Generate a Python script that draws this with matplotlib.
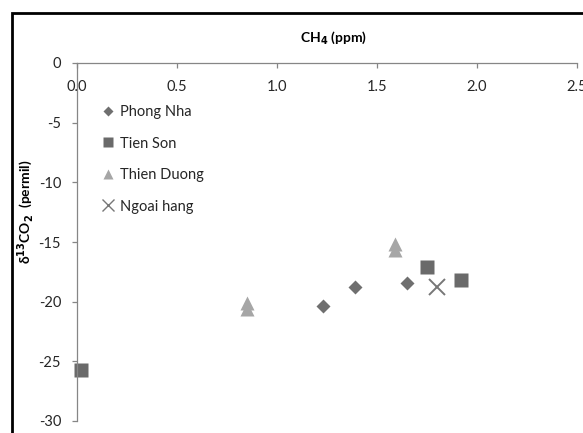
import matplotlib
matplotlib.use('Agg')
import matplotlib.pyplot as plt
from matplotlib.patches import Rectangle

# data
phong_x = [1.23, 1.39, 1.65]
phong_y = [-20.4, -18.8, -18.4]
tien_x = [0.02, 1.75, 1.92]
tien_y = [-25.7, -17.1, -18.2]
thien_x = [0.85, 0.85, 1.59, 1.59]
thien_y = [-20.1, -20.6, -15.2, -15.7]
ngoai_x = [1.80]
ngoai_y = [-18.8]

xticks = [0.0, 0.5, 1.0, 1.5, 2.0, 2.5]
yticks = [0, -5, -10, -15, -20, -25, -30]

plt.rcParams['font.family'] = ['Lato', 'DejaVu Sans']

W, H = 583, 433
fig = plt.figure(figsize=(W / 100, H / 100), dpi=100)
ax = fig.add_axes([77 / W, 1 - 421 / H, 500 / W, 358 / H])

ax.plot(phong_x, phong_y, 'D', ms=7, color='#6f6f6f', mec='none', clip_on=False, label='Phong Nha')
ax.plot(tien_x, tien_y, 's', ms=9.5, color='#6a6a6a', mec='none', clip_on=False, label='Tien Son')
ax.plot(thien_x, thien_y, '^', ms=9.5, color='#a6a6a6', mec='none', clip_on=False, label='Thien Duong')
ax.plot(ngoai_x, ngoai_y, 'x', ms=12, mew=1.4, color='#777777', clip_on=False, label='Ngoai hang')

ax.set_xlim(0, 2.5)
ax.set_ylim(-30, 0)
ax.set_xticks(xticks)
ax.set_xticklabels(['%.1f' % v for v in xticks])
ax.set_yticks(yticks)
ax.set_yticklabels(['%d' % v for v in yticks])

for s in ['top', 'right']:
    ax.spines[s].set_visible(False)
ax.spines['bottom'].set_position(('data', 0))
for s in ['left', 'bottom']:
    ax.spines[s].set_color('#868686')
    ax.spines[s].set_linewidth(0.9)
ax.tick_params(axis='x', direction='out', length=3.5, width=0.9, color='#868686',
               pad=9, labelsize=10.5, labelcolor='#262626')
ax.tick_params(axis='y', direction='out', length=3.5, width=0.9, color='#868686',
               pad=8, labelsize=10.5, labelcolor='#262626')

leg = ax.legend(loc='upper left', bbox_to_anchor=(102 / W, 1 - 105 / H), bbox_transform=fig.transFigure,
                frameon=False, fontsize=10.5, markerscale=0.8, handlelength=0.8,
                handletextpad=0.45, labelspacing=1.2, borderaxespad=0, borderpad=0)
for t in leg.get_texts():
    t.set_color('#262626')
leg.legend_handles[3].set_markersize(8)
leg.legend_handles[3].set_markeredgewidth(1.0)

fig.text(333 / W, 1 - 38 / H, r'CH$_\mathbf{4}$ (ppm)', ha='center', va='center',
         fontsize=10, fontweight='bold')
fig.text(26 / W, 1 - 212 / H, r'δ$^{\mathbf{13}}$CO$_\mathbf{2}$  (permil)', ha='center', va='center',
         rotation=90, fontsize=10, fontweight='bold')

# outer chart frame (cut off at right and bottom like the reference)
fig.patches.append(Rectangle((12 / W, -0.2), 1.2, 1.2 - 13 / H, transform=fig.transFigure,
                             fill=False, ec='black', lw=2, zorder=10))

fig.savefig('out.png', dpi=100)
